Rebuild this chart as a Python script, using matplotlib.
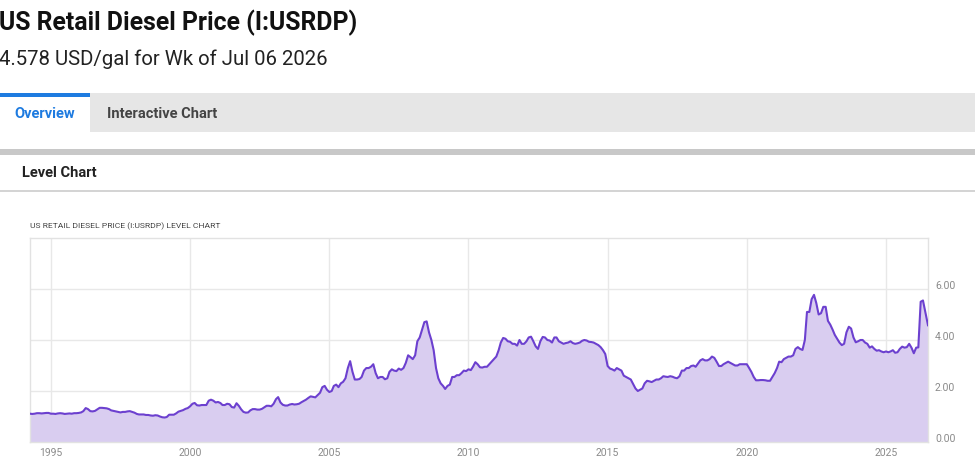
import matplotlib
matplotlib.use("Agg")
import matplotlib.pyplot as plt
import matplotlib.dates as mdates
import matplotlib.transforms as mtransforms
from matplotlib.patches import Rectangle
import pandas as pd

plt.rcParams['font.family'] = ['Roboto', 'DejaVu Sans']

title = "US Retail Diesel Price (I:USRDP)"
subtitle = "4.578 USD/gal for Wk of Jul 06 2026"
tabs = ["Overview", "Interactive Chart"]
section = "Level Chart"
chart_title = "US RETAIL DIESEL PRICE (I:USRDP) LEVEL CHART"

# monthly readings, Apr 1994 .. Jul 2026 (last point = week of Jul 06 2026)
first_month = "1994-04-01"
last_date = "2026-07-06"
prices = [
    1.11, 1.10, 1.11, 1.13, 1.13, 1.12, 1.13, 1.14, 1.14,                   # 1994
    1.11, 1.11, 1.10, 1.12, 1.13, 1.12, 1.10, 1.11, 1.12, 1.11, 1.13, 1.13,  # 1995
    1.14, 1.16, 1.21, 1.33, 1.29, 1.21, 1.20, 1.22, 1.28, 1.34, 1.34, 1.33,  # 1996
    1.32, 1.29, 1.24, 1.22, 1.20, 1.18, 1.16, 1.18, 1.18, 1.20, 1.21, 1.18,  # 1997
    1.15, 1.10, 1.08, 1.08, 1.08, 1.06, 1.06, 1.04, 1.03, 1.05, 1.04, 1.00,  # 1998
    0.97, 0.96, 0.98, 1.07, 1.07, 1.07, 1.12, 1.19, 1.22, 1.25, 1.30, 1.33,  # 1999
    1.40, 1.50, 1.53, 1.44, 1.43, 1.45, 1.45, 1.45, 1.62, 1.66, 1.62, 1.55,  # 2000
    1.57, 1.53, 1.45, 1.45, 1.50, 1.48, 1.37, 1.35, 1.52, 1.42, 1.28, 1.18,  # 2001
    1.15, 1.16, 1.24, 1.29, 1.29, 1.27, 1.27, 1.30, 1.36, 1.42, 1.42, 1.40,  # 2002
    1.50, 1.68, 1.76, 1.55, 1.46, 1.43, 1.43, 1.47, 1.49, 1.47, 1.48, 1.50,  # 2003
    1.56, 1.61, 1.66, 1.73, 1.79, 1.77, 1.75, 1.84, 1.93, 2.15, 2.20, 2.05,  # 2004
    1.96, 2.00, 2.20, 2.25, 2.15, 2.30, 2.36, 2.50, 2.90, 3.17, 2.75, 2.45,  # 2005
    2.45, 2.47, 2.55, 2.80, 2.90, 2.90, 2.95, 3.05, 2.70, 2.50, 2.55, 2.55,  # 2006
    2.46, 2.50, 2.75, 2.85, 2.80, 2.78, 2.88, 2.83, 2.90, 3.10, 3.40, 3.33,  # 2007
    3.25, 3.40, 3.95, 4.10, 4.40, 4.70, 4.73, 4.30, 4.00, 3.60, 2.90, 2.50,  # 2008
    2.30, 2.20, 2.08, 2.20, 2.25, 2.55, 2.55, 2.62, 2.62, 2.70, 2.80, 2.78,  # 2009
    2.85, 2.82, 2.95, 3.13, 3.05, 2.93, 2.92, 2.95, 2.95, 3.05, 3.15, 3.25,  # 2010
    3.35, 3.60, 3.90, 4.08, 4.05, 3.95, 3.93, 3.85, 3.85, 3.78, 4.00, 3.85,  # 2011
    3.85, 3.95, 4.10, 4.13, 3.95, 3.75, 3.65, 3.95, 4.12, 4.10, 4.00, 3.98,  # 2012
    3.90, 4.10, 4.10, 3.95, 3.90, 3.85, 3.88, 3.90, 3.95, 3.88, 3.85, 3.87,  # 2013
    3.90, 3.97, 4.00, 3.98, 3.93, 3.92, 3.90, 3.85, 3.80, 3.72, 3.60, 3.45,  # 2014
    2.98, 2.88, 2.85, 2.80, 2.90, 2.85, 2.80, 2.60, 2.55, 2.50, 2.45, 2.28,  # 2015
    2.10, 2.00, 2.05, 2.10, 2.30, 2.40, 2.38, 2.35, 2.40, 2.45, 2.45, 2.50,  # 2016
    2.58, 2.56, 2.55, 2.58, 2.56, 2.52, 2.50, 2.58, 2.80, 2.80, 2.90, 2.90,  # 2017
    2.98, 3.00, 2.95, 3.08, 3.20, 3.25, 3.20, 3.20, 3.25, 3.35, 3.30, 3.15,  # 2018
    2.98, 2.98, 3.05, 3.10, 3.15, 3.10, 3.05, 3.00, 3.00, 3.05, 3.05, 3.05,  # 2019
    3.05, 2.90, 2.75, 2.55, 2.42, 2.42, 2.43, 2.43, 2.42, 2.40, 2.40, 2.55,  # 2020
    2.70, 2.90, 3.15, 3.13, 3.25, 3.30, 3.35, 3.35, 3.40, 3.65, 3.72, 3.65,  # 2021
    3.61, 4.00, 5.10, 5.10, 5.60, 5.77, 5.45, 5.00, 5.05, 5.30, 5.30, 4.75,  # 2022
    4.60, 4.40, 4.20, 4.05, 3.90, 3.80, 3.85, 4.30, 4.52, 4.45, 4.10, 3.91,  # 2023
    3.95, 4.00, 4.00, 3.90, 3.85, 3.70, 3.75, 3.65, 3.58, 3.60, 3.55, 3.52,  # 2024
    3.55, 3.52, 3.55, 3.60, 3.50, 3.52, 3.65, 3.74, 3.70, 3.72, 3.85, 3.70,  # 2025
    3.48, 3.70, 3.71, 5.50, 5.55, 5.10, 4.578,                               # 2026
]
year_ticks = [1995, 2000, 2005, 2010, 2015, 2020, 2025]
value_ticks = [0, 2, 4, 6]

dates = pd.date_range(first_month, periods=len(prices), freq="MS")
dates = dates[:-1].append(pd.DatetimeIndex([last_date]))

W, H = 975, 469
fig = plt.figure(figsize=(W / 100, H / 100), dpi=100)
fig.patch.set_facecolor("white")


def px(x, y):
    # pixel position from the top-left corner -> figure fraction
    return x / W, 1 - y / H


def band(x0, y0, x1, y1, color):
    fig.patches.append(Rectangle(px(x0, y1), (x1 - x0) / W, (y1 - y0) / H,
                                 transform=fig.transFigure, color=color, lw=0, zorder=0))


# page header
fig.text(*px(-1, 23), title, fontsize=17.8, fontweight="bold", color="#111111", va="center")
fig.text(*px(-1, 59), subtitle, fontsize=14.7, color="#222222", va="center")

band(90, 93, 975, 132, "#e6e6e6")
band(0, 93, 90, 97, "#1e7be0")
fig.text(*px(14, 114), tabs[0], fontsize=10.5, fontweight="bold", color="#1e7be0", va="center")
fig.text(*px(107, 114), tabs[1], fontsize=10.5, fontweight="bold", color="#444444", va="center")

band(0, 149, 975, 155, "#c8c8c8")
fig.text(*px(22, 173), section, fontsize=10.5, fontweight="bold", color="#222222", va="center")
band(0, 190.5, 975, 191.5, "#d4d4d4")

fig.text(*px(30, 226), chart_title, fontsize=6.1, color="#444444", va="center")

# chart
ax = fig.add_axes([30 / W, 1 - 442 / H, 898 / W, 204 / H])
ax.fill_between(dates, prices, 0, color="#d9cdf0", lw=0, zorder=2)
ax.plot(dates, prices, color="#6c40cf", lw=1.5, zorder=3)

ax.set_xlim(dates[0], dates[-1])
ax.set_ylim(0, 8)
ax.set_xticks([pd.Timestamp(f"{y}-01-01") for y in year_ticks])
ax.xaxis.set_major_formatter(mdates.DateFormatter("%Y"))
ax.set_yticks(value_ticks)
ax.set_yticklabels([f"{v:.2f}" for v in value_ticks])
ax.yaxis.tick_right()
ax.tick_params(length=0, labelsize=7.5, labelcolor="#8a8a8a")
ax.tick_params(axis="x", pad=4)
ax.tick_params(axis="y", pad=5)
ax.grid(color="#e8e8e8", lw=1, zorder=0)
ax.set_axisbelow(True)
for s in ax.spines.values():
    s.set_color("#e2e2e2")
    s.set_linewidth(1)

shift = mtransforms.ScaledTranslation(0, 4 / 100, fig.dpi_scale_trans)
for lab in ax.get_yticklabels():
    lab.set_transform(lab.get_transform() + shift)

fig.savefig("out.png", dpi=100)
